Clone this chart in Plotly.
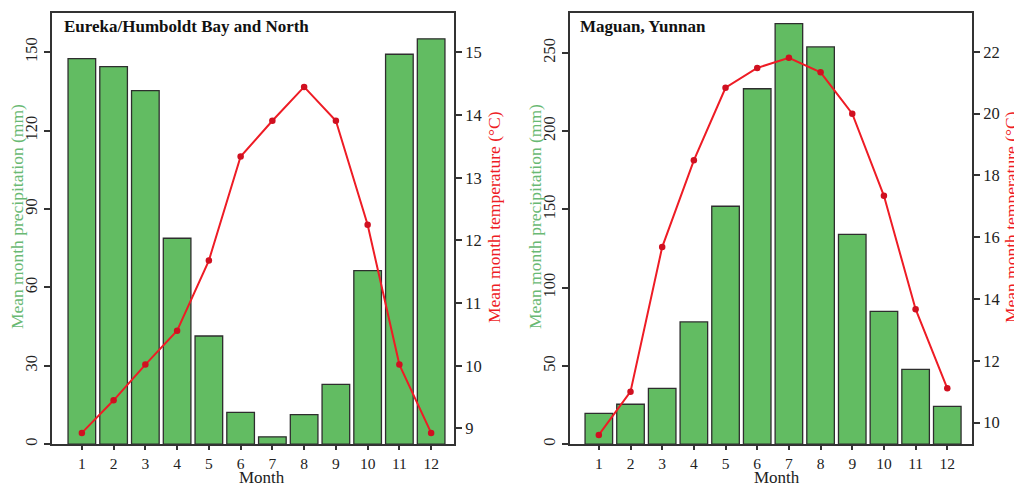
import plotly.graph_objects as go

months = list(range(1, 13))
month_labels = [str(m) for m in months]

eureka_precip = [147.5, 144.5, 135.3, 78.8, 41.4, 12.2, 2.8, 11.3, 22.9, 66.4, 149.2, 155.1]
eureka_temp = [8.93, 9.45, 10.02, 10.56, 11.68, 13.34, 13.91, 14.45, 13.91, 12.25, 10.02, 8.93]

maguan_precip = [19.7, 25.5, 35.7, 78.1, 152.0, 227.1, 268.7, 253.8, 134.1, 84.9, 47.8, 24.2]
maguan_temp = [9.6, 11.0, 15.68, 18.49, 20.84, 21.48, 21.81, 21.34, 20.0, 17.34, 13.67, 11.11]

titles = ["Eureka/Humboldt Bay and North", "Maguan, Yunnan"]

BAR = "rgb(98,188,98)"
BAR_LINE = "#2e2e2e"
RED = "#ee1c25"
MARK = "#d01020"
GREEN_TXT = "rgb(105,185,115)"
FONT = "Liberation Serif"
AX = "#333333"

# page has an 8px body margin; figure is sized so it fits the 1022x487 window
OFF = 8
W, H = 1022 - OFF, 487 - OFF
def px(x):
    return (x - OFF) / W
def py(y):
    return 1 - (y - OFF) / H

fig = go.Figure()

fig.add_trace(go.Bar(x=months, y=eureka_precip, width=0.87, marker=dict(color=BAR, line=dict(color=BAR_LINE, width=1.3)),
                     xaxis="x", yaxis="y", showlegend=False))
fig.add_trace(go.Scatter(x=months, y=eureka_temp, mode="lines+markers", line=dict(color=RED, width=2),
                         marker=dict(color=MARK, size=6.5), xaxis="x", yaxis="y2", showlegend=False))
fig.add_trace(go.Bar(x=months, y=maguan_precip, width=0.87, marker=dict(color=BAR, line=dict(color=BAR_LINE, width=1.3)),
                     xaxis="x2", yaxis="y3", showlegend=False))
fig.add_trace(go.Scatter(x=months, y=maguan_temp, mode="lines+markers", line=dict(color=RED, width=2),
                         marker=dict(color=MARK, size=6.5), xaxis="x2", yaxis="y4", showlegend=False))

ydom = [py(446), py(13)]
tickfont = dict(family=FONT, size=16.5, color="#222")
xtickfont = dict(family=FONT, size=15.5, color="#222")

common_x = dict(showline=True, linecolor=AX, linewidth=2, mirror=True, ticks="outside", ticklen=4,
                tickcolor=AX, tickwidth=1.5, showgrid=False, zeroline=False, tickfont=xtickfont,
                tickmode="array", tickvals=months, ticktext=month_labels)
common_yl = dict(showline=True, linecolor=AX, linewidth=2, ticks="outside", ticklen=6, tickcolor=AX,
                 tickwidth=1.5, showgrid=False, zeroline=False, tickfont=tickfont, tickangle=-90)
common_yr = dict(showline=True, linecolor=AX, linewidth=2, ticks="outside", ticklen=6, tickcolor=AX,
                 tickwidth=1.5, showgrid=False, zeroline=False, tickfont=tickfont, side="right")

fig.update_layout(
    width=W, height=H,
    margin=dict(l=0, r=0, t=0, b=0),
    paper_bgcolor="white", plot_bgcolor="white",
    bargap=0.1,
    xaxis=dict(domain=[px(52), px(454)], range=[0.06, 12.72], anchor="y", **common_x),
    yaxis=dict(domain=ydom, range=[0, 165], tickvals=[0, 30, 60, 90, 120, 150], anchor="x", **common_yl),
    yaxis2=dict(range=[8.75, 15.63], tickvals=[9, 10, 11, 12, 13, 14, 15], overlaying="y", anchor="x", **common_yr),
    xaxis2=dict(domain=[px(570), px(972)], range=[0.09, 12.78], anchor="y3", **common_x),
    yaxis3=dict(domain=ydom, range=[0, 275.5], tickvals=[0, 50, 100, 150, 200, 250], anchor="x2", **common_yl),
    yaxis4=dict(range=[9.3, 23.26], tickvals=[10, 12, 14, 16, 18, 20, 22], overlaying="y3", anchor="x2", **common_yr),
)

annots = []
# panel titles
annots.append(dict(text="<b>" + titles[0] + "</b>", x=px(62), y=py(27), xref="paper", yref="paper",
                   xanchor="left", yanchor="middle", showarrow=False, font=dict(family=FONT, size=17, color="#111")))
annots.append(dict(text="<b>" + titles[1] + "</b>", x=px(578), y=py(27), xref="paper", yref="paper",
                   xanchor="left", yanchor="middle", showarrow=False, font=dict(family=FONT, size=17, color="#111")))
# x titles
for xc in [262, 777]:
    annots.append(dict(text="Month", x=px(xc), y=py(479), xref="paper", yref="paper", xanchor="center",
                       yanchor="middle", showarrow=False, borderpad=0,
                       font=dict(family=FONT, size=17, color="#222")))
# y titles
for xc in [17, 535]:
    annots.append(dict(text="Mean month precipitation (mm)", x=px(xc), y=py(218), xref="paper", yref="paper",
                       xanchor="center", yanchor="middle", textangle=-90, showarrow=False,
                       font=dict(family=FONT, size=17.5, color=GREEN_TXT)))
for xc in [494, 1011]:
    annots.append(dict(text="Mean month temperature (°C)", x=px(xc), y=py(218), xref="paper", yref="paper",
                       xanchor="center", yanchor="middle", textangle=-90, showarrow=False,
                       font=dict(family=FONT, size=17.5, color=RED)))
fig.update_layout(annotations=annots)

fig.write_html("out.html")
